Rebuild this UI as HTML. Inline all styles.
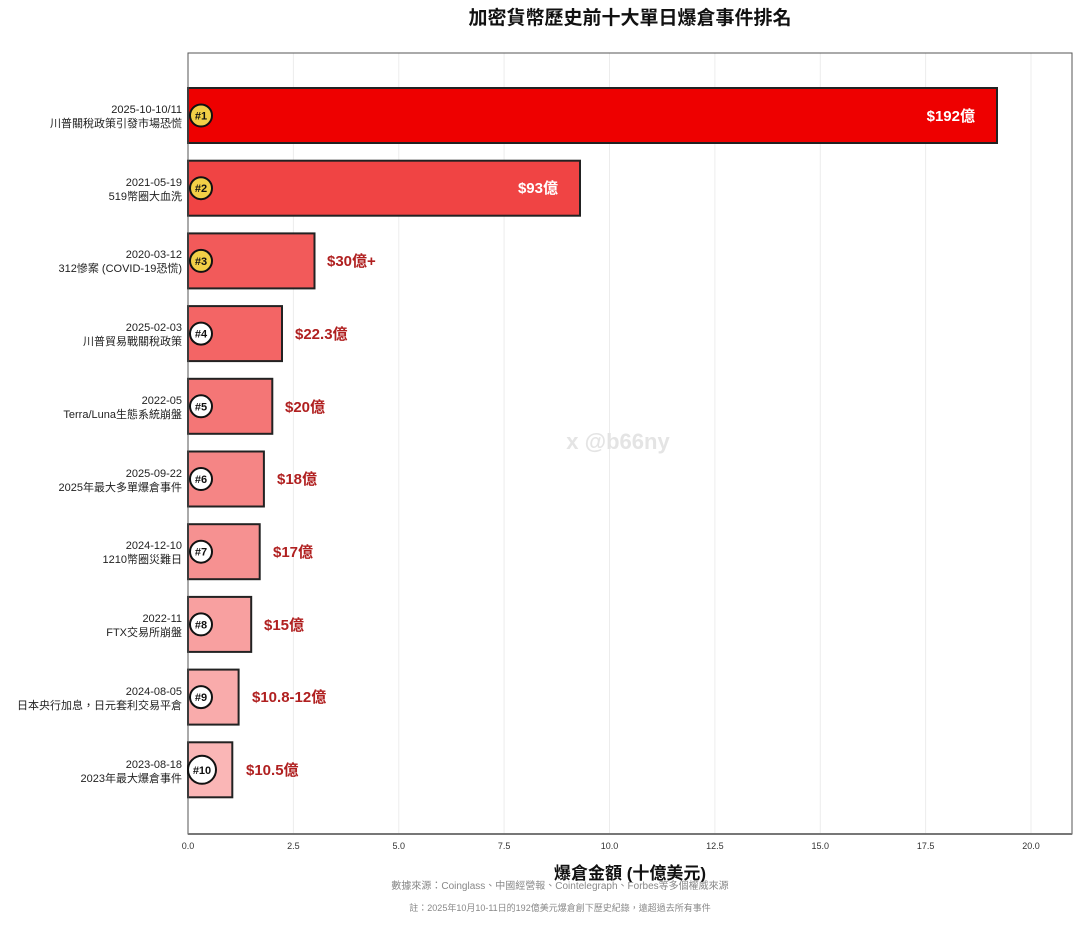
<!DOCTYPE html>
<html><head><meta charset="utf-8"><style>
body{margin:0;background:#fff}
text{font-family:"Liberation Sans","Noto Sans CJK TC",sans-serif}
</style></head><body>
<svg width="1080" height="921" viewBox="0 0 1080 921" xmlns="http://www.w3.org/2000/svg">
<rect width="1080" height="921" fill="#fff"/>
<text x="630" y="24" text-anchor="middle" font-size="19" font-weight="bold" fill="#111">加密貨幣歷史前十大單日爆倉事件排名</text>
<g stroke="#ececec" stroke-width="1">
<line x1="293.4" y1="53" x2="293.4" y2="834"/><line x1="398.8" y1="53" x2="398.8" y2="834"/>
<line x1="504.1" y1="53" x2="504.1" y2="834"/><line x1="609.5" y1="53" x2="609.5" y2="834"/>
<line x1="714.9" y1="53" x2="714.9" y2="834"/><line x1="820.3" y1="53" x2="820.3" y2="834"/>
<line x1="925.6" y1="53" x2="925.6" y2="834"/><line x1="1031" y1="53" x2="1031" y2="834"/>
</g>
<text x="618" y="449" text-anchor="middle" font-size="22" fill="#e4e4e4" font-weight="bold">x @b66ny</text>
<g stroke="#222" stroke-width="2">
<rect x="188" y="88" width="809" height="55" fill="#ee0000"/>
<rect x="188" y="160.7" width="392" height="55" fill="#f04444"/>
<rect x="188" y="233.4" width="126.5" height="55" fill="#f25a5a"/>
<rect x="188" y="306.1" width="94" height="55" fill="#f36565"/>
<rect x="188" y="378.8" width="84.3" height="55" fill="#f47676"/>
<rect x="188" y="451.5" width="75.9" height="55" fill="#f58585"/>
<rect x="188" y="524.2" width="71.7" height="55" fill="#f69191"/>
<rect x="188" y="596.9" width="63.2" height="55" fill="#f8a0a0"/>
<rect x="188" y="669.6" width="50.6" height="55" fill="#f9abab"/>
<rect x="188" y="742.3" width="44.3" height="55" fill="#fab6b6"/>
</g>
<rect x="188" y="53" width="884" height="781" fill="none" stroke="#555" stroke-width="1"/>
<line x1="188" y1="834" x2="1072" y2="834" stroke="#777" stroke-width="2"/>
<g font-size="9" fill="#333" text-anchor="middle">
<text x="188" y="849">0.0</text><text x="293.4" y="849">2.5</text><text x="398.8" y="849">5.0</text><text x="504.1" y="849">7.5</text><text x="609.5" y="849">10.0</text><text x="714.9" y="849">12.5</text><text x="820.3" y="849">15.0</text><text x="925.6" y="849">17.5</text><text x="1031" y="849">20.0</text>
</g>
<text x="630" y="879" text-anchor="middle" font-size="17" font-weight="bold" fill="#111">爆倉金額 (十億美元)</text>
<text x="560" y="889" text-anchor="middle" font-size="10" fill="#888">數據來源：Coinglass、中國經營報、Cointelegraph、Forbes等多個權威來源</text>
<text x="560" y="911" text-anchor="middle" font-size="9" fill="#888">註：2025年10月10-11日的192億美元爆倉創下歷史紀錄，遠超過去所有事件</text>
<g font-size="15" font-weight="bold">
<text x="975" y="121" text-anchor="end" fill="#fff">$192億</text>
<text x="558" y="193" text-anchor="end" fill="#fff">$93億</text>
<g fill="#b02020">
<text x="327" y="266">$30億+</text><text x="295" y="339">$22.3億</text><text x="285" y="412">$20億</text><text x="277" y="484">$18億</text><text x="273" y="557">$17億</text><text x="264" y="630">$15億</text><text x="252" y="702">$10.8-12億</text><text x="246" y="775">$10.5億</text>
</g></g>
<g font-size="11" fill="#222" text-anchor="end">
<text x="182" y="113">2025-10-10/11</text><text x="182" y="127">川普關稅政策引發市場恐慌</text>
<text x="182" y="186">2021-05-19</text><text x="182" y="200">519幣圈大血洗</text>
<text x="182" y="258">2020-03-12</text><text x="182" y="272">312慘案 (COVID-19恐慌)</text>
<text x="182" y="331">2025-02-03</text><text x="182" y="345">川普貿易戰關稅政策</text>
<text x="182" y="404">2022-05</text><text x="182" y="418">Terra/Luna生態系統崩盤</text>
<text x="182" y="477">2025-09-22</text><text x="182" y="491">2025年最大多單爆倉事件</text>
<text x="182" y="549">2024-12-10</text><text x="182" y="563">1210幣圈災難日</text>
<text x="182" y="622">2022-11</text><text x="182" y="636">FTX交易所崩盤</text>
<text x="182" y="695">2024-08-05</text><text x="182" y="709">日本央行加息，日元套利交易平倉</text>
<text x="182" y="768">2023-08-18</text><text x="182" y="782">2023年最大爆倉事件</text>
</g>
<g stroke="#111" stroke-width="2">
<circle cx="201" cy="115.5" r="11" fill="#f2cf47"/><circle cx="201" cy="188.2" r="11" fill="#f2cf47"/><circle cx="201" cy="260.9" r="11" fill="#f2cf47"/>
<circle cx="201" cy="333.6" r="11" fill="#fff"/><circle cx="201" cy="406.3" r="11" fill="#fff"/><circle cx="201" cy="479" r="11" fill="#fff"/>
<circle cx="201" cy="551.7" r="11" fill="#fff"/><circle cx="201" cy="624.4" r="11" fill="#fff"/><circle cx="201" cy="697.1" r="11" fill="#fff"/><circle cx="202" cy="769.8" r="14" fill="#fff"/>
</g>
<g font-size="11" font-weight="bold" fill="#111" text-anchor="middle">
<text x="201" y="119.5">#1</text><text x="201" y="192.2">#2</text><text x="201" y="264.9">#3</text><text x="201" y="337.6">#4</text><text x="201" y="410.3">#5</text><text x="201" y="483">#6</text><text x="201" y="555.7">#7</text><text x="201" y="628.4">#8</text><text x="201" y="701.1">#9</text><text x="202" y="773.8">#10</text>
</g>
</svg>
</body></html>
